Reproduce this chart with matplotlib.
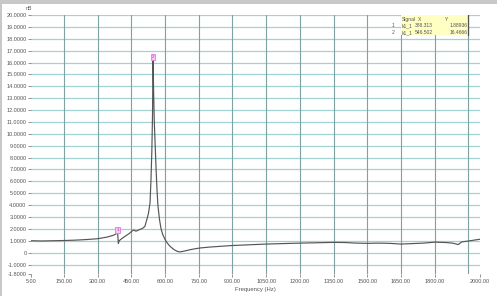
import matplotlib
matplotlib.use("Agg")
import matplotlib.pyplot as plt
from matplotlib.patches import Rectangle

plt.rcParams['font.family'] = ['Liberation Sans', 'DejaVu Sans']

# curve
freq = [5, 50, 100, 150, 200, 250, 300, 340, 368, 380, 385, 388.3, 390, 392, 396,
        405, 420, 440, 455, 462, 470, 488, 500, 510, 519, 526, 533, 537, 541, 544,
        546.5, 549, 552, 556, 560, 564, 568, 575, 582, 590, 600, 610, 622, 640,
        655, 667, 690, 720, 755, 800, 900, 1000, 1050, 1200, 1350, 1400, 1450,
        1500, 1550, 1600, 1650, 1700, 1750, 1800, 1850, 1880, 1905, 1920, 1950, 2000]
amp = [1.0, 0.98, 1.0, 1.02, 1.05, 1.1, 1.17, 1.3, 1.45, 1.55, 1.65, 1.89, 1.3, 0.78, 1.0,
       1.15, 1.35, 1.6, 1.85, 1.9, 1.8, 1.95, 2.05, 2.2, 2.8, 3.3, 4.2, 6.0, 8.5, 11.5,
       16.47, 13.5, 11.0, 9.0, 7.0, 5.3, 4.0, 2.8, 2.0, 1.5, 1.1, 0.8, 0.53, 0.25,
       0.1, 0.06, 0.15, 0.28, 0.39, 0.47, 0.6, 0.68, 0.72, 0.8, 0.86, 0.85, 0.8,
       0.78, 0.8, 0.78, 0.72, 0.76, 0.8, 0.88, 0.85, 0.8, 0.68, 0.9, 0.98, 1.12]

cursor_id = ["1", "2"]
cursor_sig = ["k1_1", "k1_1"]
cursor_x = [388.313, 546.502]
cursor_y = ["1.88936", "16.4666"]
cursor_yval = [1.88936, 16.4666]

xticks = [5, 150, 300, 450, 600, 750, 900, 1050, 1200, 1350, 1500, 1650, 1800, 2000]
xgrid = [150, 300, 450, 600, 750, 900, 1050, 1200, 1350, 1500, 1650, 1800, 1950]
yticks = [-1.8] + list(range(-1, 21))
ygrid = list(range(-1, 21))

fig = plt.figure(figsize=(4.97, 2.96), dpi=100)
fig.patch.set_facecolor("white")
# window chrome strips
fig.patches.append(Rectangle((0, 0.985), 1, 0.015, transform=fig.transFigure,
                             facecolor="#c8c8c8", edgecolor="none"))
fig.patches.append(Rectangle((0, 0), 0.005, 1, transform=fig.transFigure,
                             facecolor="#c8c8c8", edgecolor="none"))

ax = fig.add_axes([0.0632, 0.0743, 0.9018, 0.8750])
ax.set_xlim(5, 2000)
ax.set_ylim(-1.8, 20)

for g in ygrid:
    ax.axhline(g, color="#a2d2d2", lw=0.9, zorder=1)
for g in xgrid:
    ax.axvline(g, color="#7fa3a0", lw=0.8, zorder=1)

ax.plot(freq, amp, color="#555555", lw=0.85, zorder=3)

for cid, cx, cy in zip(cursor_id, cursor_x, cursor_yval):
    ax.text(cx, cy, cid, fontsize=3.2, color="#a040a0", ha="center", va="center", zorder=4,
            bbox=dict(boxstyle="square,pad=0.25", facecolor="#f6c8f6", edgecolor="#e27ae2", lw=0.6))

for s in ax.spines.values():
    s.set_visible(False)

ax.set_xticks(xticks)
ax.set_xticklabels([f"{v:.2f}" for v in xticks])
ax.set_yticks(yticks)
ax.set_yticklabels(["0" if v == 0 else f"{v:.4f}" for v in yticks])
ax.tick_params(axis="both", labelsize=4, colors="#808080", labelcolor="#555555",
               length=2, width=0.6, pad=1.5)
ax.set_xlabel("Frequency (Hz)", fontsize=4.2, color="#555555", labelpad=2)
ax.text(-0.005, 1.015, "nB", transform=ax.transAxes, fontsize=3.8, color="#555555",
        ha="center", va="bottom")

# cursor table, top right
tab = Rectangle((1650, 18.3), 300, 1.7, facecolor="#ffffc4", edgecolor="none", zorder=2)
ax.add_patch(tab)
ax.plot([1950, 1950], [18.3, 20], color="#505050", lw=0.9, zorder=3)
fs = 3.6
ax.text(1655, 19.65, "Signal", fontsize=fs, color="#555555", va="center", zorder=4)
ax.text(1725, 19.65, "X", fontsize=fs, color="#555555", va="center", zorder=4)
ax.text(1845, 19.65, "Y", fontsize=fs, color="#555555", va="center", zorder=4)
for i, (cid, sig, cx, cy) in enumerate(zip(cursor_id, cursor_sig, cursor_x, cursor_y)):
    yy = 19.1 - i * 0.58
    ax.text(1610, yy, cid, fontsize=fs, color="#555555", va="center", zorder=4)
    ax.text(1655, yy, sig, fontsize=fs, color="#555555", va="center", zorder=4)
    ax.text(1790, yy, f"{cx:.3f}", fontsize=fs, color="#555555", va="center", ha="right", zorder=4)
    ax.text(1945, yy, cy, fontsize=fs, color="#555555", va="center", ha="right", zorder=4)

fig.savefig("out.png", dpi=100)
